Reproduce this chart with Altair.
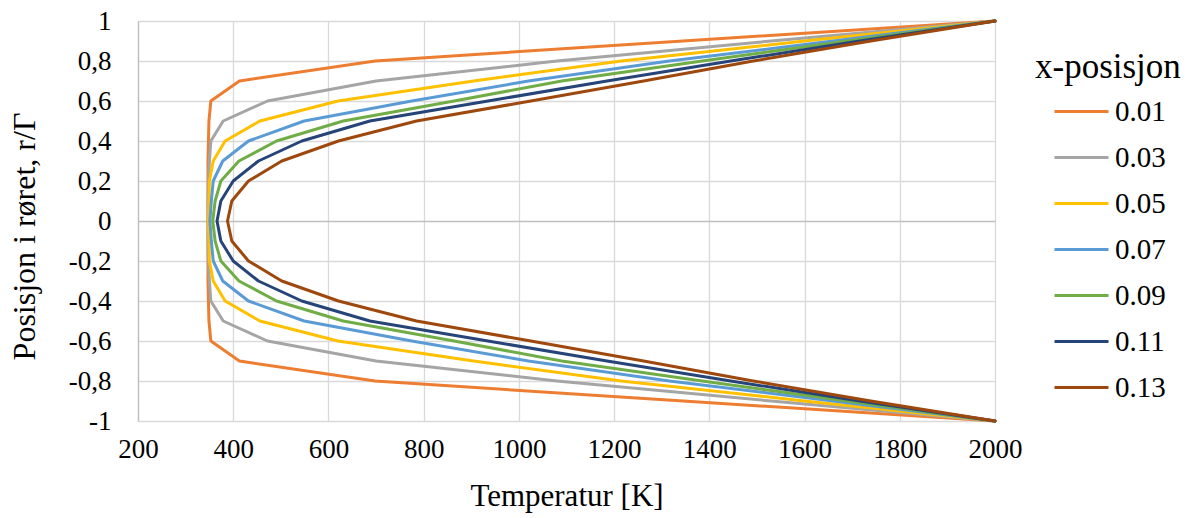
import altair as alt
import pandas as pd

# Radial positions r/Γ
r_vals = [-1.0, -0.9, -0.8, -0.7, -0.6, -0.5, -0.4, -0.3, -0.2, -0.1, 0.0,
          0.1, 0.2, 0.3, 0.4, 0.5, 0.6, 0.7, 0.8, 0.9, 1.0]

# Temperature profiles [K] for each x-position
T_001 = [2000, 1345, 698, 413, 353, 349, 348, 347, 347, 347, 347,
         347, 347, 347, 348, 349, 353, 413, 698, 1345, 2000]
T_003 = [2000, 1530, 1080, 700, 472, 379, 353, 350, 348, 347, 347,
         347, 348, 350, 353, 379, 472, 700, 1080, 1530, 2000]
T_005 = [2000, 1600, 1215, 905, 620, 456, 383, 358, 350, 349, 348,
         349, 350, 358, 383, 456, 620, 905, 1215, 1600, 2000]
T_007 = [2000, 1660, 1316, 1020, 775, 549, 432, 378, 358, 354, 351,
         354, 358, 378, 432, 549, 775, 1020, 1316, 1660, 2000]
T_009 = [2000, 1690, 1385, 1090, 864, 631, 491, 412, 374, 362, 357,
         362, 374, 412, 491, 631, 864, 1090, 1385, 1690, 2000]
T_011 = [2000, 1716, 1445, 1185, 935, 687, 544, 453, 400, 374, 366,
         374, 400, 453, 544, 687, 935, 1185, 1445, 1716, 2000]
T_013 = [2000, 1739, 1492, 1262, 1025, 785, 621, 502, 432, 397, 388,
         397, 432, 502, 621, 785, 1025, 1262, 1492, 1739, 2000]

series_labels = ["0.01", "0.03", "0.05", "0.07", "0.09", "0.11", "0.13"]
series_values = [T_001, T_003, T_005, T_007, T_009, T_011, T_013]
colors = ["#ED7D31", "#A5A5A5", "#FFC000", "#5B9BD5", "#70AD47", "#264478", "#9E480E"]

x_ticks = [200, 400, 600, 800, 1000, 1200, 1400, 1600, 1800, 2000]
y_ticks = [-1.0, -0.8, -0.6, -0.4, -0.2, 0.0, 0.2, 0.4, 0.6, 0.8, 1.0]

rows = []
for lab, vals in zip(series_labels, series_values):
    for i, (r, t) in enumerate(zip(r_vals, vals)):
        rows.append({"series": lab, "r": r, "T": t, "idx": i})
df = pd.DataFrame(rows)

FONT = "Liberation Serif"

chart = alt.Chart(df).mark_line(strokeWidth=3, strokeJoin="round", strokeCap="round").encode(
    x=alt.X("T:Q",
            scale=alt.Scale(domain=[200, 2000], nice=False, zero=False),
            axis=alt.Axis(values=x_ticks, format="d", title="Temperatur [K]", ticks=False, domain=False,
                          labelPadding=15, labelFontSize=27, titleFontSize=31,
                          labelFont=FONT, titleFont=FONT, labelOverlap=False,
                          titleFontWeight="normal", titleY=84, titleBaseline="alphabetic",
                          labelFlush=False, gridColor="#D9D9D9", gridWidth=1.3)),
    y=alt.Y("r:Q",
            scale=alt.Scale(domain=[-1, 1], nice=False),
            axis=alt.Axis(values=y_ticks, title="Posisjon i røret, r/Γ", ticks=False,
                          labelExpr="replace(replace(format(datum.value, '~g'), '.', ','), '\u2212', '-')",
                          labelPadding=27, labelFontSize=27, titleFontSize=32,
                          labelFont=FONT, titleFont=FONT, labelOverlap=False,
                          titleFontWeight="normal", titleX=-104, titleY=215,
                          titleBaseline="alphabetic", titleAngle=270,
                          domainColor="#BFBFBF", domainWidth=1.3,
                          gridColor={"condition": {"test": "datum.value === 0", "value": "#BFBFBF"},
                                     "value": "#D9D9D9"},
                          gridWidth=1.3)),
    color=alt.Color("series:N",
                    scale=alt.Scale(domain=series_labels, range=colors),
                    legend=alt.Legend(title="x-posisjon", orient="none", legendX=897, legendY=29,
                                      titleFontSize=35, titleFontWeight="normal", titleAnchor="start",
                                      labelFontSize=29, symbolType="M0,0H3", symbolSize=1296,
                                      labelFont=FONT, titleFont=FONT,
                                      symbolStrokeWidth=3, labelOffset=41, rowPadding=11,
                                      titlePadding=7, padding=0)),
    order=alt.Order("idx:Q"),
).properties(
    width=857, height=400,
    padding={"left": 138, "top": 21, "right": 198, "bottom": 97},
    autosize=alt.AutoSizeParams(type="none"),
).configure(font=FONT).configure_axis(
    labelFont=FONT, titleFont=FONT, labelColor="#000000", titleColor="#000000"
).configure_legend(
    labelFont=FONT, titleFont=FONT, labelColor="#000000", titleColor="#000000"
).configure_view(stroke=None)

chart.save("out.html", embed_options={"renderer": "svg", "actions": False})
